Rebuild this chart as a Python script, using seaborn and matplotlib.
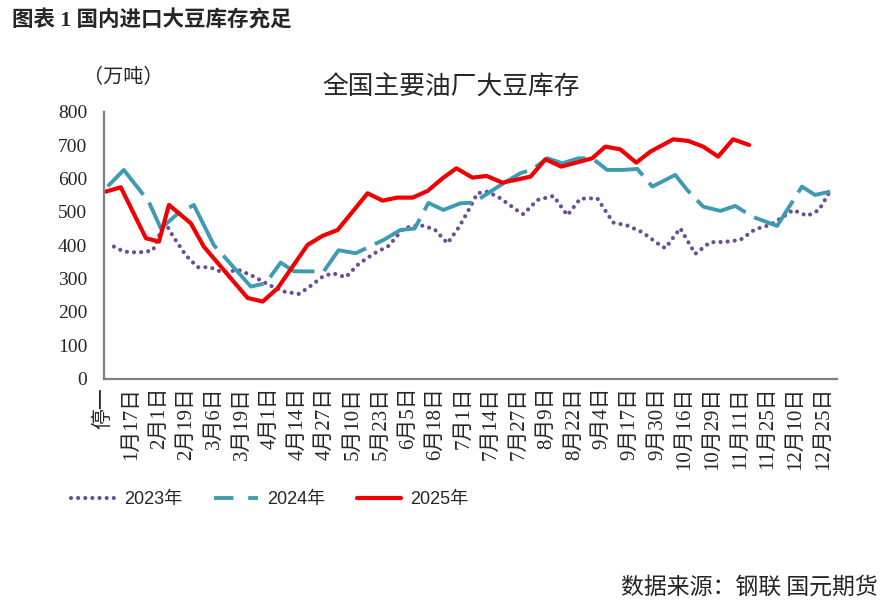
import numpy as np
import pandas as pd
import seaborn as sns
import matplotlib.pyplot as plt
from matplotlib.lines import Line2D

# x tick labels (category axis, one label every few points)
tick_labels = ["停一", "1月17日", "2月1日", "2月19日", "3月6日", "3月19日", "4月1日",
               "4月14日", "4月27日", "5月10日", "5月23日", "6月5日", "6月18日", "7月1日",
               "7月14日", "7月27日", "8月9日", "8月22日", "9月4日", "9月17日", "9月30日",
               "10月16日", "10月29日", "11月11日", "11月25日", "12月10日", "12月25日"]

# positions are in tick-label units (0 = first label), values in 万吨
x_2023 = [0.36, 0.72, 1.23, 1.77, 2.2, 2.49, 2.96, 3.39, 3.83, 4.3, 4.87, 5.42, 5.96, 6.5,
          7.04, 7.36, 7.91, 8.27, 8.74, 9.21, 9.78, 10.29, 10.83, 11.41, 11.95, 12.42, 12.82,
          13.14, 13.5, 13.86, 14.33, 14.91, 15.16, 15.67, 16.25, 16.75, 17.22, 17.83, 18.41,
          18.92, 19.46, 20.04, 20.29, 20.83, 21.37, 21.91, 22.45, 23.0, 23.54, 24.08, 24.69,
          24.91, 25.42, 25.85, 26.21]
v_2023 = [396, 381, 378, 384, 470, 428, 370, 334, 334, 318, 326, 306, 281, 261,
          254, 271, 306, 316, 304, 344, 376, 398, 451, 461, 448, 406, 453,
          499, 556, 561, 541, 506, 493, 536, 548, 490, 540, 541, 468,
          459, 439, 404, 391, 451, 374, 409, 410, 416, 448, 461, 493,
          506, 488, 506, 558]

x_2024 = [0.14, 0.72, 1.62, 2.06, 2.6, 3.25, 3.97, 5.31, 5.85, 6.39, 6.86, 7.94, 8.48, 9.1,
          10.11, 10.72, 11.23, 11.73, 12.27, 12.89, 13.36, 14.44, 15.05, 15.49, 16.03, 16.57,
          17.15, 17.65, 18.19, 18.74, 19.28, 19.82, 20.65, 21.08, 21.66, 22.28, 22.82, 23.43,
          24.33, 25.23, 25.7, 26.25]
v_2024 = [577, 626, 531, 450, 490, 521, 401, 276, 286, 348, 322, 321, 385, 376,
          416, 446, 450, 527, 506, 526, 528, 586, 616, 628, 661, 646,
          661, 661, 626, 626, 629, 576, 611, 566, 516, 503, 518, 486,
          458, 576, 551, 561]

x_2025 = [0.07, 0.61, 1.52, 1.99, 2.35, 3.14, 3.61, 5.19, 5.74, 6.28, 7.36, 7.9, 8.45, 9.53,
          10.07, 10.61, 11.16, 11.7, 12.24, 12.74, 13.32, 13.83, 14.4, 14.87, 15.42, 15.96,
          16.53, 17.07, 17.65, 18.12, 18.66, 19.24, 19.75, 20.58, 21.12, 21.66, 22.2, 22.74,
          23.32]
v_2025 = [561, 574, 421, 411, 521, 466, 396, 242, 231, 271, 401, 428, 446, 556,
          534, 543, 543, 563, 601, 631, 603, 608, 588, 596, 606, 658,
          636, 648, 661, 696, 688, 648, 681, 718, 713, 696, 666, 718,
          701]

c_2023 = "#6b4f94"
c_2024 = "#3f9bb3"
c_2025 = "#f00000"

sns.set_style("white")
plt.rcParams['font.family'] = ['Liberation Serif', 'Noto Sans CJK SC']
cjk = ['Noto Sans CJK SC']

fig = plt.figure(figsize=(8.88, 6.03), dpi=100)
ax = fig.add_axes([0.117, 0.3723, 0.8257, 0.442])

df23 = pd.DataFrame({"x": x_2023, "y": v_2023})
df24 = pd.DataFrame({"x": x_2024, "y": v_2024})
df25 = pd.DataFrame({"x": x_2025, "y": v_2025})

dot_style = (0, (0.01, 1.7))
sns.lineplot(data=df23, x="x", y="y", ax=ax, color=c_2023, lw=3.0,
             linestyle=dot_style, dash_capstyle="round", estimator=None, sort=False)
sns.lineplot(data=df24, x="x", y="y", ax=ax, color=c_2024, lw=2.8,
             linestyle=(0, (14, 2.5)), estimator=None, sort=False)
sns.lineplot(data=df25, x="x", y="y", ax=ax, color=c_2025, lw=3.0,
             estimator=None, sort=False, solid_joinstyle="round")

ax.set_xlim(0, 26.5)
ax.set_ylim(0, 800)
ax.set_yticks(range(0, 801, 100))
ax.tick_params(axis="y", direction="in", length=6, width=1.3, color="#808080",
               labelsize=14, pad=12)
ax.set_xticks(range(len(tick_labels)))
ax.set_xticklabels(tick_labels, rotation=90, fontsize=15, va="top")
ax.set_xticks(np.linspace(0, 26.5, 85), minor=True)
ax.tick_params(axis="x", which="major", length=0, pad=6)
ax.tick_params(axis="x", which="minor", direction="in", length=4.5, width=1.3, color="#808080")
ax.set_xlabel("")
ax.set_ylabel("")
for s in ["top", "right"]:
    ax.spines[s].set_visible(False)
for s in ["left", "bottom"]:
    ax.spines[s].set_color("#808080")
    ax.spines[s].set_linewidth(1.6)

fig.text(0.5085, 0.854, "全国主要油厂大豆库存", fontsize=18.5, ha="center", va="center",
         family=cjk)
fig.text(0.139, 0.871, "（万吨）", fontsize=14.5, ha="center", va="center", family=cjk)
fig.text(0.014, 0.966, "图表 1 国内进口大豆库存充足", fontsize=15.5, ha="left", va="center",
         fontweight="bold", family=['Liberation Serif', 'Noto Sans CJK SC'])
fig.text(0.989, 0.027, "数据来源：钢联 国元期货", fontsize=16.5, ha="right", va="center",
         family=cjk)

handles = [
    Line2D([], [], color=c_2023, lw=3.0, linestyle=dot_style, dash_capstyle="round"),
    Line2D([], [], color=c_2024, lw=2.8, linestyle=(0, (5, 3.8))),
    Line2D([], [], color=c_2025, lw=3.0),
]
fig.legend(handles, ["2023年", "2024年", "2025年"], loc="center left",
           bbox_to_anchor=(0.062, 0.171), ncol=3, frameon=False,
           prop={"family": ['Liberation Sans', 'Noto Sans CJK SC'], "size": 13},
           handlelength=2.4, handletextpad=0.55, columnspacing=1.75)

fig.savefig("out.png", dpi=100)
